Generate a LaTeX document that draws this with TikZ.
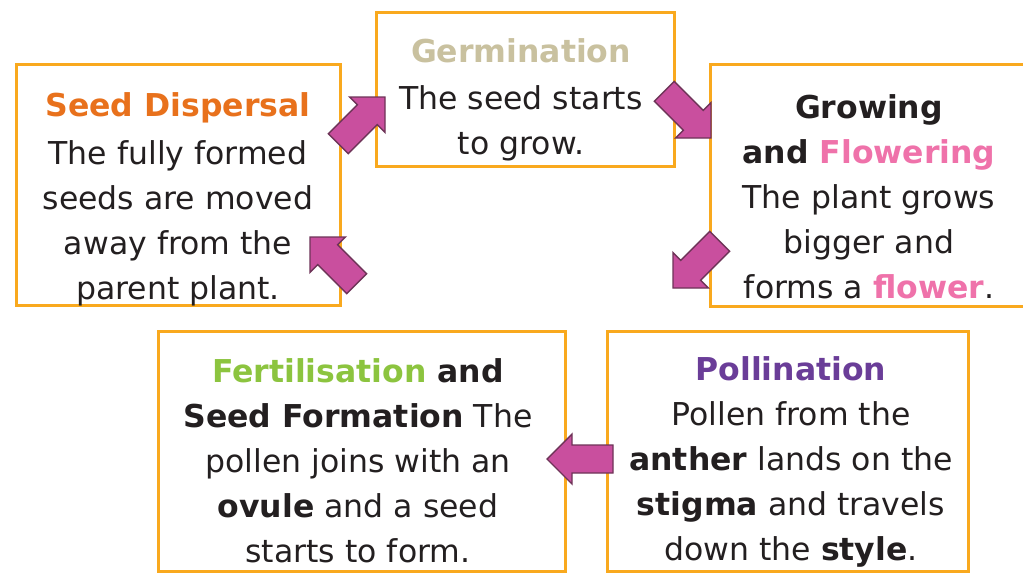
\documentclass[tikz,border=0pt]{standalone}
\usepackage{fontspec}
\setmainfont{DejaVu Sans}
\definecolor{boxorange}{HTML}{F9A91E}
\definecolor{ink}{HTML}{231F20}
\definecolor{cOrange}{HTML}{E8711C}
\definecolor{cBeige}{HTML}{C9C19F}
\definecolor{cPink}{HTML}{EF72AA}
\definecolor{cGreen}{HTML}{8CC43F}
\definecolor{cPurple}{HTML}{6A3D98}
\definecolor{arrowpink}{HTML}{C94F9E}
\definecolor{arrowdark}{HTML}{6E3458}
\begin{document}
\begin{tikzpicture}[x=1pt,y=-1pt,
  box/.style={draw=boxorange, line width=3pt, inner sep=0pt, outer sep=0pt, fill=white},
  txt/.style={align=center, font=\fontsize{31.5}{45}\selectfont, text=ink, inner sep=0pt},
  barrow/.pic={\filldraw[fill=arrowpink, draw=arrowdark, line width=1.4pt, line join=miter]
     (0,0) -- (-25,25) -- (-25,14) -- (-66,14) -- (-66,-14) -- (-25,-14) -- (-25,-25) -- cycle;}]
\useasboundingbox (0,0) rectangle (1023,578);
\clip (0,0) rectangle (1023,578);
\fill[white] (0,0) rectangle (1023,578);
% boxes
\node[box, minimum width=324pt, minimum height=240pt] (sd) at (178,185) {};
\node[box, minimum width=298pt, minimum height=154pt] (germ) at (525,89.5) {};
\node[box, minimum width=330pt, minimum height=241pt] (grow) at (875,185.5) {};
\node[box, minimum width=407pt, minimum height=240pt] (fert) at (361.5,451) {};
\node[box, minimum width=361pt, minimum height=240pt] (poll) at (787.5,451) {};
% texts
\node[txt] (sdt) at (178,199) {{\bfseries\color{cOrange}Seed Dispersal}\\[3pt]The fully formed\\seeds are moved\\away from the\\parent plant.};
\node[txt] (germt) at (521,99.5) {{\bfseries\color{cBeige}Germination}\\[2pt]The seed starts\\to grow.};
\node[txt] (growt) at (869,196.5) {{\bfseries Growing}\\{\bfseries and \textcolor{cPink}{Flowering}}\\The plant grows\\bigger and\\forms a {\bfseries\color{cPink}flower}.};
\node[txt] (fertt) at (358,461) {{\bfseries\textcolor{cGreen}{Fertilisation} and}\\{\bfseries Seed Formation} The\\pollen joins with an\\\textbf{ovule} and a seed\\starts to form.};
\node[txt] (pollt) at (791,461.5) {{\bfseries\color{cPurple}Pollination}\\Pollen from the\\\textbf{anther} lands on the\\\textbf{stigma} and travels\\down the \textbf{style}.};
% arrow tips
\coordinate (t1) at (385,97);
\coordinate (t2) at (711,138);
\coordinate (t3) at (673,288);
\coordinate (t4) at (547,459);
\coordinate (t5) at (310,237);
\pic[rotate=45] at (t1) {barrow};
\pic[rotate=-45] at (t2) {barrow};
\pic[rotate=-135] at (t3) {barrow};
\pic[rotate=180] at (t4) {barrow};
\pic[rotate=135] at (t5) {barrow};
\end{tikzpicture}
\end{document}
